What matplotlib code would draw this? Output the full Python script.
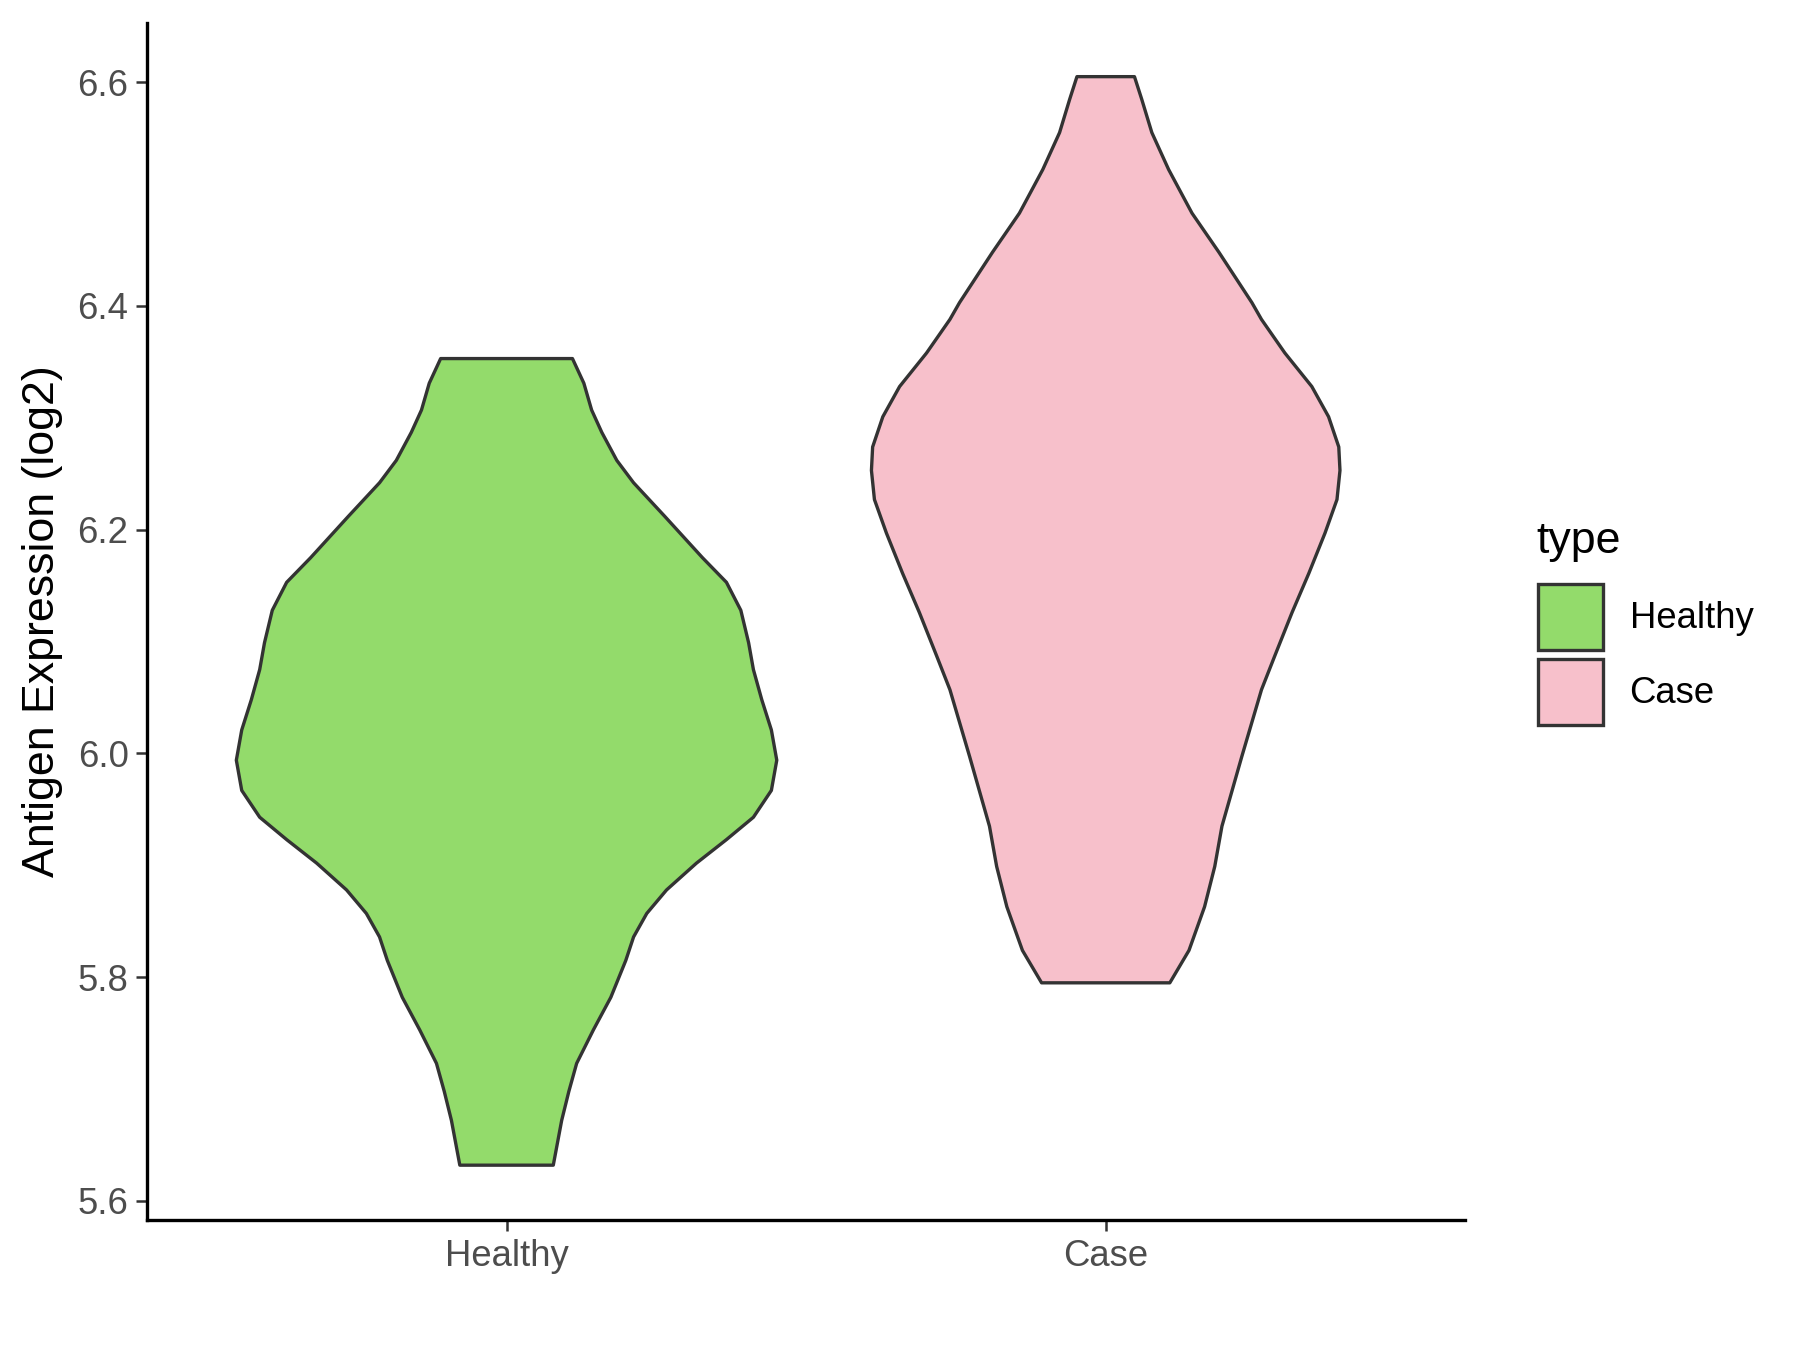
import numpy as np
import matplotlib.pyplot as plt
from matplotlib.patches import Patch

plt.rcParams['font.family'] = ['Liberation Sans', 'DejaVu Sans']

groups = ['Healthy', 'Case']
colors = ['#93DB6B', '#F7C0CB']

# violin outlines: y level and half width (in x units)
healthy_y = [6.353, 6.331, 6.307, 6.287, 6.262, 6.242, 6.212, 6.175, 6.153, 6.128,
             6.099, 6.075, 6.048, 6.021, 5.994, 5.967, 5.943, 5.923, 5.902, 5.878,
             5.857, 5.836, 5.815, 5.782, 5.753, 5.723, 5.698, 5.672, 5.632]
healthy_w = [0.110, 0.129, 0.142, 0.159, 0.184, 0.212, 0.264, 0.327, 0.367, 0.391,
             0.404, 0.412, 0.426, 0.442, 0.451, 0.442, 0.412, 0.367, 0.317, 0.267,
             0.234, 0.212, 0.199, 0.174, 0.145, 0.117, 0.104, 0.092, 0.078]
case_y = [6.605, 6.585, 6.555, 6.522, 6.483, 6.448, 6.403, 6.388, 6.358, 6.328,
          6.301, 6.274, 6.253, 6.227, 6.197, 6.161, 6.126, 6.087, 6.057, 5.997,
          5.935, 5.899, 5.863, 5.824, 5.795]
case_w = [0.048, 0.060, 0.077, 0.105, 0.144, 0.189, 0.244, 0.260, 0.299, 0.344,
          0.372, 0.389, 0.391, 0.386, 0.366, 0.339, 0.311, 0.282, 0.260, 0.227,
          0.194, 0.182, 0.165, 0.139, 0.107]

yticks = [5.6, 5.8, 6.0, 6.2, 6.4, 6.6]

fig = plt.figure(figsize=(12, 9), dpi=150)
ax = fig.add_axes([0.0817, 0.0963, 0.7323, 0.8867])

outlines = [(healthy_y, healthy_w), (case_y, case_w)]
for i, (yy, ww) in enumerate(outlines):
    pos = i + 1
    yy = np.array(yy)
    ww = np.array(ww)
    xs = np.concatenate([pos - ww, (pos + ww)[::-1]])
    ys = np.concatenate([yy, yy[::-1]])
    ax.fill(xs, ys, facecolor=colors[i], edgecolor='#333333', linewidth=1.6,
            joinstyle='round', zorder=2)

ax.set_xlim(0.4, 2.6)
ax.set_ylim(5.583, 6.653)
ax.set_xticks([1, 2])
ax.set_xticklabels(groups)
ax.set_yticks(yticks)
ax.set_yticklabels(['%.1f' % v for v in yticks])
ax.tick_params(labelsize=17.5, labelcolor='#4D4D4D', color='#333333', length=5.4,
               width=1.2)
ax.set_ylabel('Antigen Expression (log2)', fontsize=21.5, labelpad=7)

for s in ['top', 'right']:
    ax.spines[s].set_visible(False)
for s in ['left', 'bottom']:
    ax.spines[s].set_linewidth(1.6)
    ax.spines[s].set_color('black')

handles = [Patch(facecolor=colors[i], edgecolor='#333333', linewidth=1.6, label=groups[i])
           for i in range(2)]
ax.legend(handles=handles, loc='upper left',
          bbox_to_anchor=(1538 / 1800, 1 - 584 / 1350),
          bbox_transform=fig.transFigure, frameon=False, fontsize=17.5,
          handlelength=1.78, handleheight=2.40, labelspacing=0.25,
          handletextpad=0.73, borderpad=0, borderaxespad=0)
fig.text(1536 / 1800, 1 - 541 / 1350, 'type', fontsize=21.5, va='center', ha='left')

fig.savefig('out.png', dpi=150)
